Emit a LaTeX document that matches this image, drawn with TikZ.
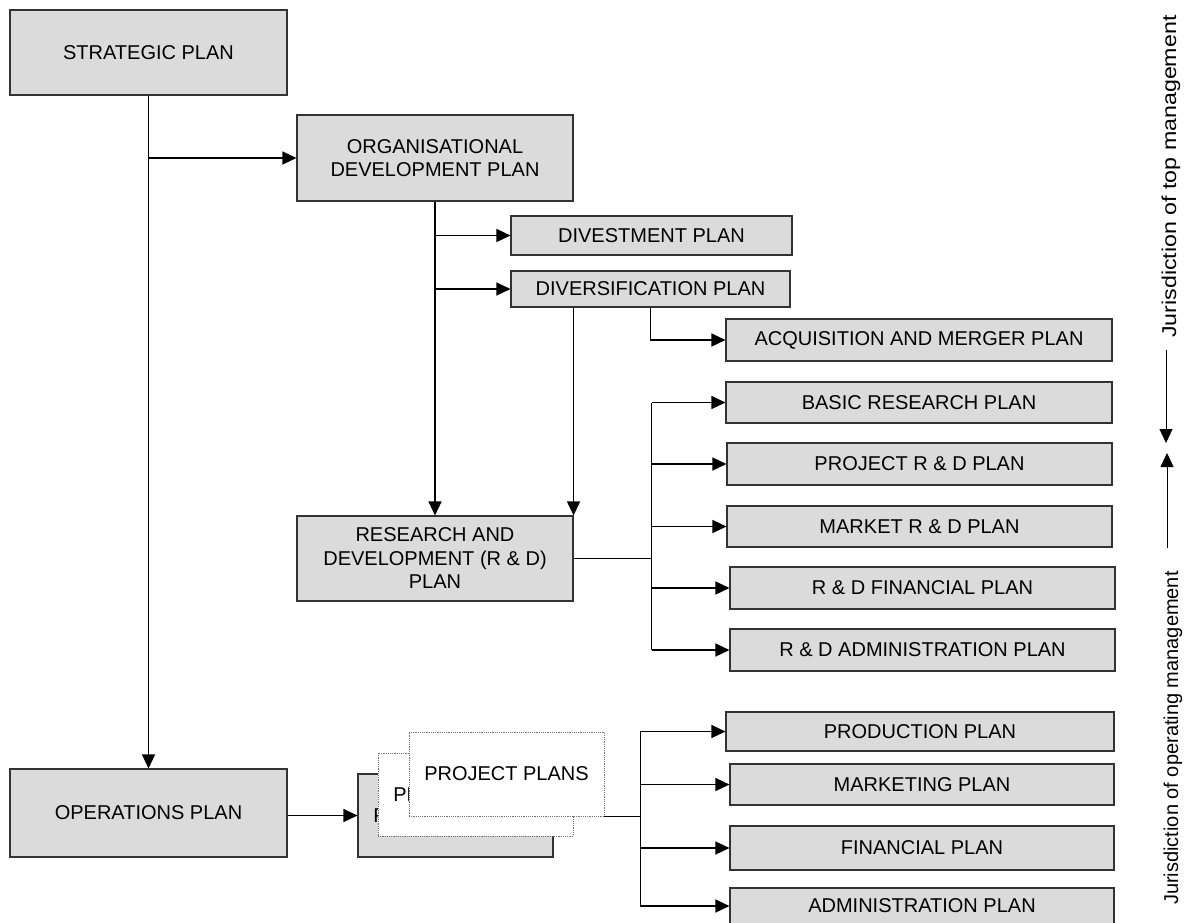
\documentclass[tikz,border=0pt]{standalone}
\usepackage{fontspec}
\setmainfont{Liberation Sans}
\usetikzlibrary{arrows.meta}

\tikzset{
  plan/.style={draw=black!80, line width=1.1pt, fill=black!14, inner sep=0pt,
    align=center, font=\fontsize{20}{23.5}\selectfont, text=black},
  sheet/.style={draw=black!55, line width=0.9pt, dash pattern=on 1.2pt off 1pt,
    fill=white, inner sep=0pt, font=\fontsize{20}{23.5}\selectfont},
  link/.style={draw=black, line width=1.3pt},
  arrow/.style={link, -{Triangle[length=14pt,width=13pt]}},
  side/.style={rotate=90, anchor=west, inner sep=0pt, font=\fontsize{20}{24}\selectfont}
}

\begin{document}
\begin{tikzpicture}[x=1pt, y=-1pt]
  \useasboundingbox (0,0) rectangle (1190,922);

  % main chain of plans
  \node[plan, minimum width=277, minimum height=85] (strat) at (148.5,52.5) {STRATEGIC PLAN};
  \node[plan, minimum width=276, minimum height=86] (org) at (435,158) {ORGANISATIONAL\\DEVELOPMENT PLAN};
  \node[plan, minimum width=281, minimum height=39] (divest) at (651.5,235.5) {DIVESTMENT PLAN};
  \node[plan, minimum width=279, minimum height=36] (divers) at (650.5,289) {DIVERSIFICATION PLAN};
  \node[plan, minimum width=386, minimum height=42] (acq) at (919,340) {ACQUISITION AND MERGER PLAN};
  \node[plan, minimum width=276, minimum height=85] (rd) at (435,558.5) {RESEARCH AND\\DEVELOPMENT (R \& D)\\PLAN};
  \node[plan, minimum width=277, minimum height=88] (ops) at (148.5,813) {OPERATIONS PLAN};

  % research and development sub-plans
  \node[plan, minimum width=386, minimum height=41] (basic) at (919,402.5) {BASIC RESEARCH PLAN};
  \node[plan, minimum width=385, minimum height=42] (projrd) at (919.5,464) {PROJECT R \& D PLAN};
  \node[plan, minimum width=385, minimum height=41] (mktrd) at (919.5,526.5) {MARKET R \& D PLAN};
  \node[plan, minimum width=385, minimum height=42] (finrd) at (922.5,588) {R \& D FINANCIAL PLAN};
  \node[plan, minimum width=385, minimum height=42] (admrd) at (922.5,650) {R \& D ADMINISTRATION PLAN};

  % operational sub-plans
  \node[plan, minimum width=388, minimum height=39] (prod) at (920,731.5) {PRODUCTION PLAN};
  \node[plan, minimum width=384, minimum height=41] (mkt) at (922,784.5) {MARKETING PLAN};
  \node[plan, minimum width=384, minimum height=44] (fin) at (922,848) {FINANCIAL PLAN};
  \node[plan, minimum width=384, minimum height=36] (adm) at (922,906) {ADMINISTRATION PLAN};

  % stack of project plans
  \node[plan, minimum width=195, minimum height=83] (pback) at (455.5,815.5) {PROJECT PLANS};
  \node[sheet, minimum width=195, minimum height=83] (pmid) at (475.5,794.5) {PROJECT PLANS};
  \node[sheet, minimum width=195, minimum height=84] (pfront) at (506.5,774) {PROJECT PLANS};

  % strategic plan connectors
  \draw[arrow] (strat.south) -- (ops.north);
  \draw[arrow] (strat.south |- org.west) -- (org.west);

  % organisational development connectors
  \draw[arrow] (org.south) -- (rd.north);
  \draw[arrow] (org.south |- divest.west) -- (divest.west);
  \draw[arrow] (org.south |- divers.west) -- (divers.west);
  \draw[arrow] (divers.south) |- (acq.west);
  \draw[arrow] (rd.north east |- divers.south) -- (rd.north east);

  % research and development bus
  \path (rd.east) ++(78,0) coordinate (rdbus);
  \draw[link] (rd.east) -- (rdbus);
  \draw[link] (rdbus) -- (rdbus |- basic.west);
  \draw[link] (rdbus) -- (rdbus |- admrd.west);
  \draw[arrow] (rdbus |- basic.west) -- (basic.west);
  \draw[arrow] (rdbus |- projrd.west) -- (projrd.west);
  \draw[arrow] (rdbus |- mktrd.west) -- (mktrd.west);
  \draw[arrow] (rdbus |- finrd.west) -- (finrd.west);
  \draw[arrow] (rdbus |- admrd.west) -- (admrd.west);

  % operations connectors
  \draw[arrow] (ops.east |- pback.west) -- (pback.west);
  \path (pfront.south east) ++(36,0) coordinate (pbus);
  \draw[link] (pfront.south east) -- (pbus);
  \draw[link] (pbus) -- (pbus |- prod.west);
  \draw[link] (pbus) -- (pbus |- adm.west);
  \draw[arrow] (pbus |- prod.west) -- (prod.west);
  \draw[arrow] (pbus |- mkt.west) -- (mkt.west);
  \draw[arrow] (pbus |- fin.west) -- (fin.west);
  \draw[arrow] (pbus |- adm.west) -- (adm.west);

  % jurisdiction labels
  \node[side] (topjur) at (1171,338) {\scalebox{1.16}[1]{Jurisdiction of top management}};
  \node[side] (opjur) at (1173,905) {Jurisdiction of operating management};
  \coordinate (topa) at (1166,350);
  \coordinate (topb) at (1166,443);
  \coordinate (opa) at (1167,548);
  \coordinate (opb) at (1167,453);
  \draw[link, line width=1pt, -{Triangle[length=14pt,width=13pt]}] (topa) -- (topb);
  \draw[link, line width=1pt, -{Triangle[length=14pt,width=13pt]}] (opa) -- (opb);
\end{tikzpicture}
\end{document}
